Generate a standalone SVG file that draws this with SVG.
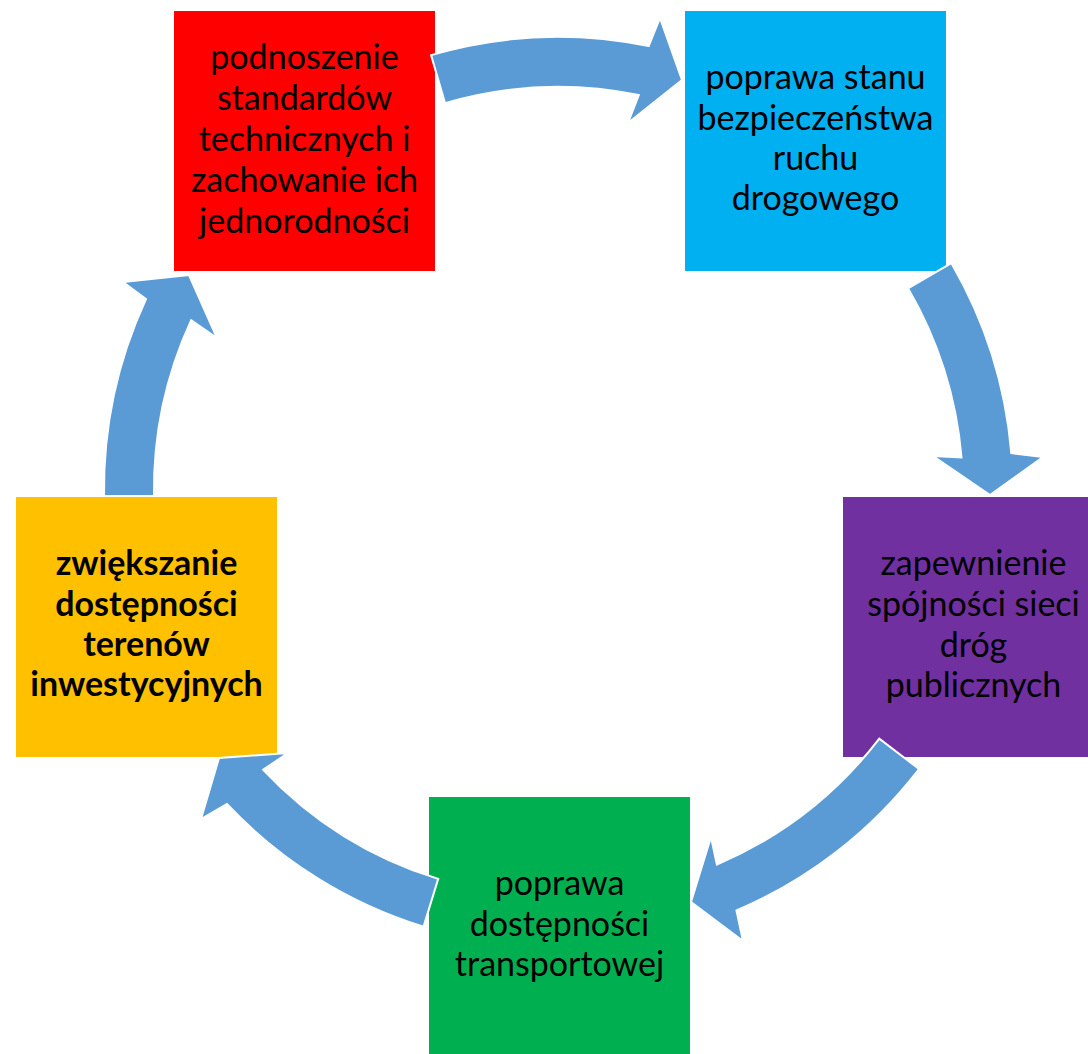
<svg xmlns="http://www.w3.org/2000/svg" width="1088" height="1054" viewBox="0 0 1088 1054">
<style>
.box{stroke:none}
.t{font-family:Lato,"Liberation Sans",sans-serif;font-size:34px;fill:#000;text-anchor:middle}
.b{font-weight:bold}
.arr{fill:#5B9BD5;stroke:#fff;stroke-width:2;stroke-linejoin:miter}
</style>
<rect width="1088" height="1054" fill="#fff"/>
<g id="node-red">
<rect class="box" x="174" y="11" width="261" height="260" fill="#FF0000"/>
<text class="t" x="304.5" y="69">podnoszenie</text>
<text class="t" x="304.5" y="110">standardów</text>
<text class="t" x="304.5" y="151">technicznych i</text>
<text class="t" x="304.5" y="192">zachowanie ich</text>
<text class="t" x="304.5" y="233">jednorodności</text>
</g>
<g id="node-blue">
<rect class="box" x="685" y="11" width="261" height="260" fill="#00B0F0"/>
<text class="t" x="815.5" y="89">poprawa stanu</text>
<text class="t" x="815.5" y="130">bezpieczeństwa</text>
<text class="t" x="815.5" y="170">ruchu</text>
<text class="t" x="815.5" y="210">drogowego</text>
</g>
<g id="node-purple">
<rect class="box" x="843" y="497" width="261" height="260" fill="#7030A0"/>
<text class="t" x="973.5" y="575">zapewnienie</text>
<text class="t" x="973.5" y="616">spójności sieci</text>
<text class="t" x="973.5" y="657">dróg</text>
<text class="t" x="973.5" y="697">publicznych</text>
</g>
<g id="node-green">
<rect class="box" x="429" y="797" width="261" height="260" fill="#00B050"/>
<text class="t" x="559.5" y="895">poprawa</text>
<text class="t" x="559.5" y="936">dostępności</text>
<text class="t" x="559.5" y="976">transportowej</text>
</g>
<g id="node-orange">
<rect class="box" x="16" y="497" width="261" height="260" fill="#FFC000"/>
<text class="t b" x="146.5" y="575">zwiększanie</text>
<text class="t b" x="146.5" y="616">dostępności</text>
<text class="t b" x="146.5" y="656">terenów</text>
<text class="t b" x="146.5" y="696">inwestycyjnych</text>
</g>
<g id="connectors">
<path class="arr" d="M431.1,55.1 A455,455 0 0 1 648.7,46.1 L660,18 L682,80 L628,123 L638.8,95.1 A405,405 0 0 0 445,103.1 Z"/>
<path class="arr" d="M951.3,263.1 A455,455 0 0 1 1011.3,453.1 L1043,457 L990,495 L933,456 L961.5,457.4 A405,405 0 0 0 908,288.3 Z"/>
<path class="arr" d="M919,769 A455,455 0 0 1 736.5,910.5 L743,941 L691,902 L711,837 L716.9,864.5 A405,405 0 0 0 879.3,738.6 Z"/>
<path class="arr" d="M423.5,926.7 A455,455 0 0 1 226.9,804 L201,819 L219,758 L288,753 L263.2,769.7 A405,405 0 0 0 438.2,878.9 Z"/>
<path class="arr" d="M104,496 A455,455 0 0 1 146,299 L123,282 L189,275 L217,338 L191.2,320.2 A405,405 0 0 0 154,496 Z"/>
</g>
</svg>
